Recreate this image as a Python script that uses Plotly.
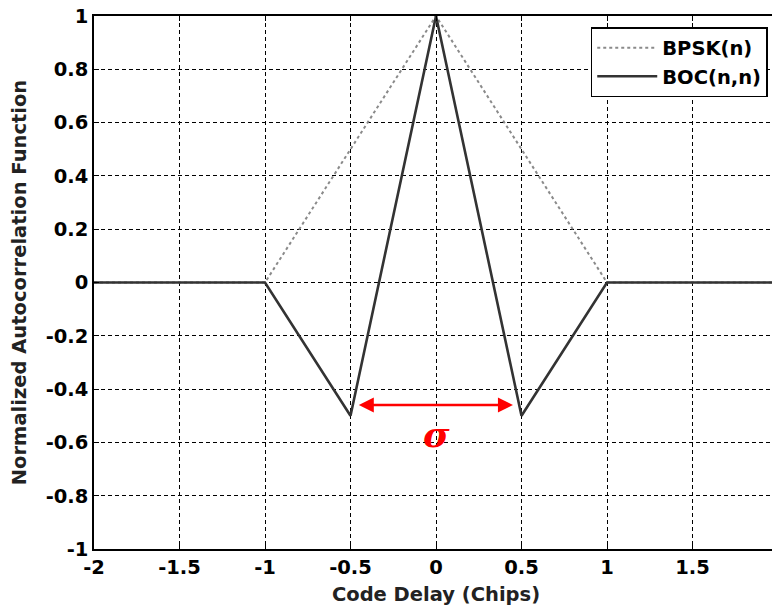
import plotly.graph_objects as go

# Data
bpsk_x = [-2, -1, 0, 1, 2]
bpsk_y = [0, 0, 1, 0, 0]
boc_x = [-2, -1, -0.5, 0, 0.5, 1, 2]
boc_y = [0, 0, -0.5, 1, -0.5, 0, 0]

x_ticks = [-2, -1.5, -1, -0.5, 0, 0.5, 1, 1.5, 2]
x_ticklabels = ["-2", "-1.5", "-1", "-0.5", "0", "0.5", "1", "1.5", "2"]
y_ticks = [1, 0.8, 0.6, 0.4, 0.2, 0, -0.2, -0.4, -0.6, -0.8, -1]
y_ticklabels = ["1", "0.8", "0.6", "0.4", "0.2", "0", "-0.2", "-0.4", "-0.6", "-0.8", "-1"]

arrow_start = -0.46
arrow_end = 0.45
arrow_y = -0.46
sigma_x = 0.0
sigma_y = -0.57

FONT = "DejaVu Sans, Arial, sans-serif"
FS = 19.5

fig = go.Figure()
fig.add_trace(go.Scatter(x=bpsk_x, y=bpsk_y, mode="lines", name="BPSK(n)",
                         line=dict(color="#8a8a8a", width=2, dash="dot")))
fig.add_trace(go.Scatter(x=boc_x, y=boc_y, mode="lines", name="BOC(n,n)",
                         line=dict(color="#333333", width=2.6)))

fig.add_annotation(x=arrow_end, y=arrow_y, ax=arrow_start, ay=arrow_y,
                   xref="x", yref="y", axref="x", ayref="y",
                   text="", showarrow=True, arrowside="end+start",
                   arrowhead=2, arrowsize=1.2, arrowwidth=2.5, arrowcolor="#ff0000")
fig.add_annotation(x=sigma_x, y=sigma_y, xref="x", yref="y", text="<b><i>σ</i></b>",
                   showarrow=False, font=dict(size=36, color="#ff0000",
                                              family="DejaVu Serif, serif"))

axis_common = dict(showline=True, linecolor="black", linewidth=1.5, mirror="ticks",
                   ticks="inside", ticklen=5, tickcolor="black",
                   showgrid=True, gridcolor="black", griddash="4px,3px", gridwidth=1,
                   zeroline=False, ticklabeloverflow="allow",
                   tickfont=dict(family=FONT, size=FS, color="black", weight="bold"))

fig.update_xaxes(range=[-2, 2], tickvals=x_ticks, ticktext=x_ticklabels,
                 title=dict(text="Code Delay (Chips)", standoff=9,
                            font=dict(family=FONT, size=FS, color="#222", weight="bold")),
                 **axis_common)
fig.update_yaxes(range=[-1, 1], tickvals=y_ticks, ticktext=y_ticklabels,
                 title=dict(text="Normalized Autocorrelation Function", standoff=14,
                            font=dict(family=FONT, size=FS, color="#222", weight="bold")),
                 **axis_common)

fig.update_layout(
    width=772, height=602,
    margin=dict(l=86, r=2, t=8, b=61, autoexpand=False),
    paper_bgcolor="white", plot_bgcolor="white",
    showlegend=True,
    legend=dict(x=0.985, y=0.979, xanchor="right", yanchor="top",
                bgcolor="white", bordercolor="black", borderwidth=1.5,
                font=dict(family=FONT, size=FS, color="black", weight="bold"),
                itemwidth=60, tracegroupgap=0),
)

fig.write_html("out.html")
